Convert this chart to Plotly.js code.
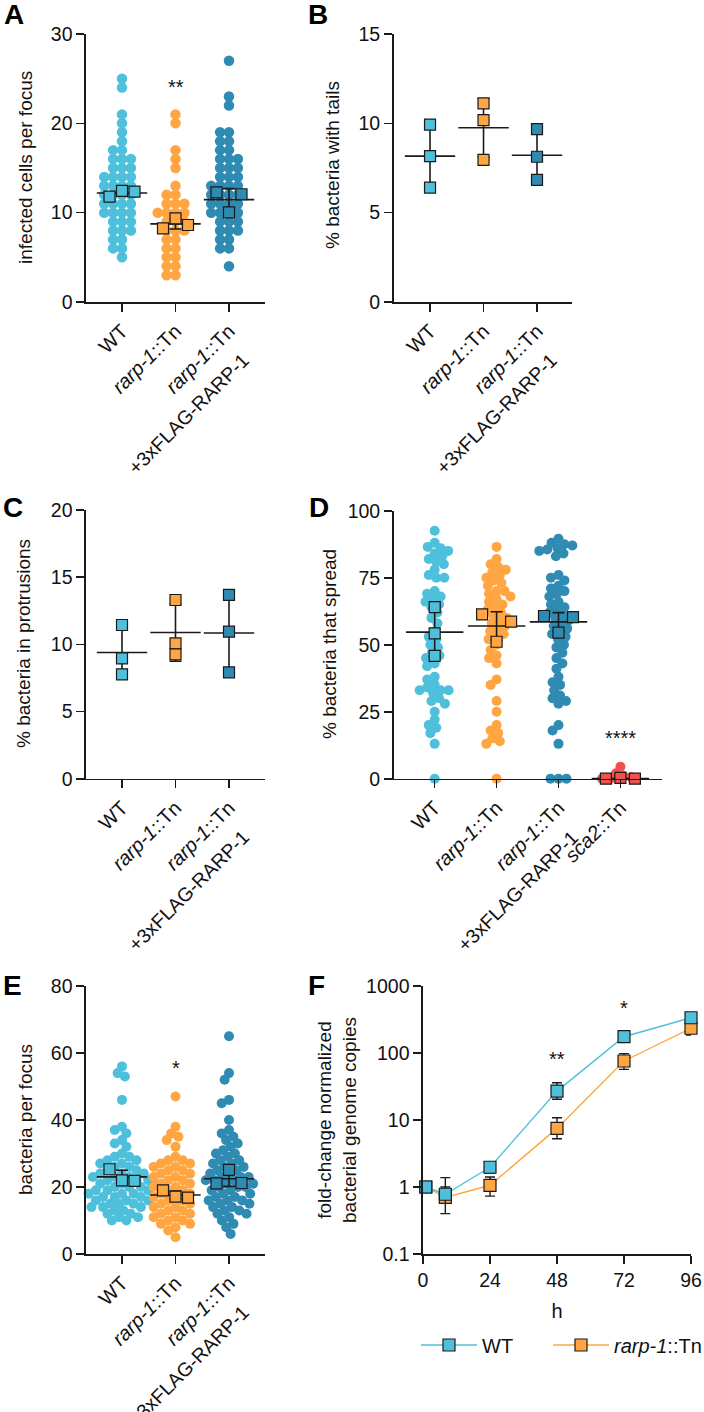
<!DOCTYPE html>
<html><head><meta charset="utf-8">
<script src="https://cdn.plot.ly/plotly-3.0.1.min.js"></script>
<style>html,body{margin:0;padding:0;background:#fff}#chart{width:704px;height:1412px}</style>
</head><body><div id="chart"></div>
<script>
// ---------------- DATA ----------------
const catsABC = ['WT', '<i>rarp-1</i>::Tn', '<i>rarp-1</i>::Tn'];
const catsD = ['WT', '<i>rarp-1</i>::Tn', '<i>rarp-1</i>::Tn', '<i>sca2</i>::Tn'];
const compSecondLine = '+3xFLAG-RARP-1';

// A: infected cells per focus (individual foci)
const A_WT = [25,24,21,20,19,18,17,17,16,16,16,15,15,15,14,14,14,14,13,13,13,13,12,12,12,12,11,11,11,11,10,10,10,10,9,9,9,8,8,8,7,7,6,6,5];
const A_RARP = [21,20,17,16,15,13,12,12,11,11,11,10,10,10,10,9,9,9,8,8,8,7,7,6,6,5,5,4,4,3,3];
const A_COMP = [27,23,22,19,19,18,18,17,17,16,16,16,15,15,15,14,14,14,13,13,13,13,12,12,12,12,11,11,11,11,10,10,10,10,9,9,9,8,8,8,7,7,6,6,4];
const A_WT_reps = [11.8, 12.45, 12.35];
const A_RARP_reps = [8.25, 9.37, 8.62];
const A_COMP_reps = [12.28, 10.04, 12.06];

// B: % bacteria with tails (replicates)
const B_WT_reps = [9.93, 8.17, 6.40];
const B_RARP_reps = [11.12, 10.18, 7.95];
const B_COMP_reps = [9.68, 8.13, 6.83];

// C: % bacteria in protrusions (replicates)
const C_WT_reps = [11.44, 8.96, 7.77];
const C_RARP_reps = [13.30, 10.08, 9.26];
const C_COMP_reps = [13.68, 10.95, 7.92];

// D: % bacteria that spread
const D_WT = [92.5,88,86.5,86,85,84,83,82,81,80,78,76,75,75,70,69,68,67,66,65,64,62,60,58,55,53,52,50,49,47,46,45,43,42,38,37,35,34,33,33,33,32,30,29,28,25,22,20,19,17,13,0];
const D_RARP = [86.5,82,80,79,78,77,76,75,74,73,72,70,70,69,68,67,66,65,64,63,62,61,60,59,58,57,56,55,54,53,52,50,48,46,45,43,37,35,29,25,20,18,17,15,14,13,0];
const D_COMP = [89.5,88,87.5,87,86,85.5,85,84,83,76,75,74,72,71,70,69,68,66,65,64,63,62,61,60,59,58,57,56,55,54,53,52,50,49,47,45,43,41,38,36,35,33,31,30,29,28,20,18,13,0,0,0];
const D_SCA2 = [0,0,0.5,1,2,4.5];
const D_WT_reps = [64.0, 54.25, 45.8];
const D_RARP_reps = [61.3, 51.1, 58.6];
const D_COMP_reps = [60.7, 54.5, 60.3];
const D_SCA2_reps = [0.0, 0.3, 0.0];

// E: bacteria per focus
const E_WT = [56,54,53,46,38,37,36,34,33,32,30,29,29,28,28,27,27,26,26,25,25,24,24,24,23,23,23,22,22,22,21,21,21,20,20,20,19,19,19,18,18,18,17,17,17,16,16,16,15,15,15,14,14,14,13,13,12,12,11,11,10,10];
const E_RARP = [47,38,36,35,34,32,29,28,28,27,27,26,26,25,25,24,24,23,23,22,22,21,21,20,20,19,19,18,18,17,17,16,16,15,15,14,14,13,13,12,12,11,11,10,10,9,9,8,7,5];
const E_COMP = [65,54,52,46,45,40,37,36,35,34,33,32,31,30,30,29,28,28,27,27,26,26,25,25,24,24,23,23,23,22,22,22,21,21,20,20,20,19,19,18,18,17,17,16,16,16,15,15,14,14,13,13,12,12,11,10,9,8,6];
const E_WT_reps = [25.3, 22.0, 21.8];
const E_RARP_reps = [19.0, 17.1, 16.8];
const E_COMP_reps = [21.1, 25.1, 21.2];

// F: fold-change normalized bacterial genome copies
const F_hours = [1, 8, 24, 48, 72, 96];
const F_WT = [1, 0.78, 1.97, 27, 175, 336];
const F_WT_up = [0, 0.60, 0.30, 9, 20, 40];
const F_WT_dn = [0, 0.38, 0.35, 6.6, 20, 40];
const F_RARP = [1, 0.70, 1.06, 7.5, 76, 234];
const F_RARP_up = [0, 0.30, 0.35, 3.3, 22, 40];
const F_RARP_dn = [0, 0.10, 0.33, 2.25, 19, 48];
const F_xticks = [0, 24, 48, 72, 96];
const F_yticks = [0.1, 1, 10, 100, 1000];
const F_yticktext = ['0.1', '1', '10', '100', '1000'];

// ---------------- STYLE / LAYOUT ----------------
const W = 704, H = 1412;
const FONT = 'Liberation Sans, Arial, Helvetica, sans-serif';
const C_WT = '#4FC0DC', C_RARP = '#FFA542', C_COMP = '#2F8BB2', C_SCA = '#F0524E';
const INK = '#1a1a1a';

const P = {
  A: {ax: '', px: [86, 265], py: [34, 302], xr: [-0.673, 2.673], yr: [0, 30], dt: 10},
  B: {ax: '2', px: [393.7, 572], py: [34, 302], xr: [-0.679, 2.654], yr: [0, 15], dt: 5},
  C: {ax: '3', px: [86, 265], py: [510, 778.7], xr: [-0.673, 2.673], yr: [0, 20], dt: 5},
  D: {ax: '4', px: [393.7, 662], py: [510.7, 778.7], xr: [-0.662, 3.672], yr: [0, 100], dt: 25},
  E: {ax: '5', px: [86, 265], py: [986, 1254], xr: [-0.673, 2.673], yr: [0, 80], dt: 20},
  F: {ax: '6', px: [423, 691], py: [986, 1254], xr: [0, 96], yr: [-1, 3]}
};
function pxPerUnitY(p) { return (p.py[1] - p.py[0]) / (p.yr[1] - p.yr[0]); }
function pxPerUnitX(p) { return (p.px[1] - p.px[0]) / (p.xr[1] - p.xr[0]); }

// beeswarm: circle packing closest to centre
function swarm(vals, pyu, sep) {
  const n = vals.length, out = new Array(n), placed = [];
  const idx = vals.map((v, i) => i).sort((a, b) => vals[b] - vals[a]);
  for (const i of idx) {
    const y = vals[i] * pyu;
    const cands = [0];
    for (const p of placed) {
      const dy = y - p.y;
      if (Math.abs(dy) < sep) { const h = Math.sqrt(sep * sep - dy * dy); cands.push(p.x + h, p.x - h); }
    }
    const ok = cands.filter(c => placed.every(p => (c - p.x) ** 2 + (y - p.y) ** 2 >= sep * sep - 1e-6));
    ok.sort((a, b) => Math.abs(a) - Math.abs(b) || a - b);
    const c = ok[0];
    placed.push({x: c, y}); out[i] = c;
  }
  return out;
}
// replicate squares: spread side by side if any overlap
function repOffsets(vals, pyu, size, step) {
  let overlap = false;
  for (let i = 0; i < vals.length; i++) for (let j = i + 1; j < vals.length; j++)
    if (Math.abs(vals[i] - vals[j]) * pyu < size) overlap = true;
  return vals.map((v, i) => overlap ? (i - (vals.length - 1) / 2) * step : 0);
}
function mean(a) { return a.reduce((s, v) => s + v, 0) / a.length; }
function sd(a) { const m = mean(a); return Math.sqrt(a.reduce((s, v) => s + (v - m) ** 2, 0) / (a.length - 1)); }

const traces = [];
function ax(p) { return {xaxis: 'x' + p.ax, yaxis: 'y' + p.ax}; }

function addDots(p, cat, vals, color, sep, size) {
  const off = swarm(vals, pxPerUnitY(p), sep), ppx = pxPerUnitX(p);
  traces.push(Object.assign({type: 'scatter', mode: 'markers', x: off.map(o => cat + o / ppx), y: vals,
    marker: {size: size, color: color, line: {width: 0}}, cliponaxis: false, showlegend: false, hoverinfo: 'skip'}, ax(p)));
}
function addSummary(p, groups, lineLen) {
  traces.push(Object.assign({type: 'scatter', mode: 'markers', x: groups.map((g, i) => i), y: groups.map(mean),
    marker: {symbol: 'line-ew', size: lineLen, color: INK, line: {width: 1.6, color: INK}},
    error_y: {type: 'data', array: groups.map(sd), visible: true, color: INK, thickness: 1.6, width: 6},
    cliponaxis: false, showlegend: false, hoverinfo: 'skip'}, ax(p)));
}
function addReps(p, cat, vals, color, step) {
  const off = repOffsets(vals, pxPerUnitY(p), 10.5, step), ppx = pxPerUnitX(p);
  traces.push(Object.assign({type: 'scatter', mode: 'markers', x: off.map(o => cat + o / ppx), y: vals,
    marker: {symbol: 'square', size: 11, color: color, line: {color: INK, width: 1.2}},
    cliponaxis: false, showlegend: false, hoverinfo: 'skip'}, ax(p)));
}

// Panel A
addDots(P.A, 0, A_WT, C_WT, 8.9, 10.5);
addDots(P.A, 1, A_RARP, C_RARP, 8.9, 10.5);
addDots(P.A, 2, A_COMP, C_COMP, 8.9, 10.5);
addSummary(P.A, [A_WT_reps, A_RARP_reps, A_COMP_reps], 36);
addReps(P.A, 0, A_WT_reps, C_WT, 12.5);
addReps(P.A, 1, A_RARP_reps, C_RARP, 12.5);
addReps(P.A, 2, A_COMP_reps, C_COMP, 12.5);
// Panel B
addSummary(P.B, [B_WT_reps, B_RARP_reps, B_COMP_reps], 36);
addReps(P.B, 0, B_WT_reps, C_WT, 12.5);
addReps(P.B, 1, B_RARP_reps, C_RARP, 12.5);
addReps(P.B, 2, B_COMP_reps, C_COMP, 12.5);
// Panel C
addSummary(P.C, [C_WT_reps, C_RARP_reps, C_COMP_reps], 36);
addReps(P.C, 0, C_WT_reps, C_WT, 12.5);
addReps(P.C, 1, C_RARP_reps, C_RARP, 12.5);
addReps(P.C, 2, C_COMP_reps, C_COMP, 12.5);
// Panel D
addDots(P.D, 0, D_WT, C_WT, 8, 10);
addDots(P.D, 1, D_RARP, C_RARP, 8, 10);
addDots(P.D, 2, D_COMP, C_COMP, 8, 10);
addDots(P.D, 3, D_SCA2, C_SCA, 8, 10);
addSummary(P.D, [D_WT_reps, D_RARP_reps, D_COMP_reps, D_SCA2_reps], 41);
addReps(P.D, 0, D_WT_reps, C_WT, 14.5);
addReps(P.D, 1, D_RARP_reps, C_RARP, 14.5);
addReps(P.D, 2, D_COMP_reps, C_COMP, 14.5);
addReps(P.D, 3, D_SCA2_reps, C_SCA, 14.5);
// Panel E
addDots(P.E, 0, E_WT, C_WT, 8, 10);
addDots(P.E, 1, E_RARP, C_RARP, 8, 10);
addDots(P.E, 2, E_COMP, C_COMP, 8, 10);
addSummary(P.E, [E_WT_reps, E_RARP_reps, E_COMP_reps], 36);
addReps(P.E, 0, E_WT_reps, C_WT, 12.5);
addReps(P.E, 1, E_RARP_reps, C_RARP, 12.5);
addReps(P.E, 2, E_COMP_reps, C_COMP, 12.5);
// Panel F
traces.push(Object.assign({type: 'scatter', mode: 'lines+markers', name: '<i>rarp-1</i>::Tn', legend: 'legend2',
  x: F_hours, y: F_RARP, line: {color: C_RARP, width: 1.4},
  marker: {symbol: 'square', size: 12, color: C_RARP, line: {color: INK, width: 1.2}},
  error_y: {type: 'data', symmetric: false, array: F_RARP_up, arrayminus: F_RARP_dn, color: INK, thickness: 1.4, width: 5},
  cliponaxis: false}, ax(P.F)));
traces.push(Object.assign({type: 'scatter', mode: 'lines+markers', name: 'WT', legend: 'legend',
  x: F_hours, y: F_WT, line: {color: C_WT, width: 1.4},
  marker: {symbol: 'square', size: 12, color: C_WT, line: {color: INK, width: 1.2}},
  error_y: {type: 'data', symmetric: false, array: F_WT_up, arrayminus: F_WT_dn, color: INK, thickness: 1.4, width: 5},
  cliponaxis: false}, ax(P.F)));

// axes
const baseAxis = {showline: true, linecolor: INK, linewidth: 1.6, ticks: 'outside', ticklen: 8, tickwidth: 1.6,
  tickcolor: INK, showgrid: false, zeroline: false, fixedrange: true, tickfont: {size: 19.5, color: '#111', family: FONT}};
const legendBase = {orientation: 'h', xanchor: 'left', y: 1 - 1345 / H, yanchor: 'middle', font: {size: 20, family: FONT},
  itemwidth: 56, bgcolor: 'rgba(0,0,0,0)'};
const layout = {width: W, height: H, margin: {l: 0, r: 0, t: 0, b: 0, autoexpand: false}, paper_bgcolor: '#fff', plot_bgcolor: 'rgba(0,0,0,0)',
  font: {family: FONT, color: '#111'}, showlegend: true,
  legend: Object.assign({}, legendBase, {x: 416 / W}),
  legend2: Object.assign({}, legendBase, {x: 548 / W}),
  annotations: []};

for (const k of Object.keys(P)) {
  const p = P[k];
  const xd = [p.px[0] / W, p.px[1] / W], yd = [1 - p.py[1] / H, 1 - p.py[0] / H];
  const xa = Object.assign({}, baseAxis, {domain: xd, range: p.xr, anchor: 'y' + p.ax});
  const ya = Object.assign({}, baseAxis, {domain: yd, range: p.yr, anchor: 'x' + p.ax});
  if (k === 'F') {
    xa.tickvals = F_xticks; xa.ticktext = F_xticks.map(String); xa.type = 'linear';
    xa.title = {text: 'h', font: {size: 20, family: FONT}, standoff: 14};
    ya.type = 'log'; ya.tickvals = F_yticks; ya.ticktext = F_yticktext;
  } else {
    const cats = k === 'D' ? catsD : catsABC;
    xa.tickvals = cats.map((c, i) => i); xa.ticktext = cats; xa.tickangle = -45;
    xa.tickfont = {size: 20, color: '#111', family: FONT};
    ya.tickmode = 'linear'; ya.tick0 = 0; ya.dtick = p.dt;
    // second line of the complemented-strain label (category index 2)
    layout.annotations.push({xref: 'x' + p.ax, yref: 'y' + p.ax, x: 2, y: 0, xshift: -41, yshift: -112,
      text: compSecondLine, textangle: -45, showarrow: false, xanchor: 'center', yanchor: 'middle',
      font: {size: 19.5, family: FONT, color: '#111'}});
  }
  layout['xaxis' + p.ax] = xa; layout['yaxis' + p.ax] = ya;
}

// axis titles
const yTitles = [
  ['infected cells per focus', 25, 168], ['% bacteria with tails', 333, 165],
  ['% bacteria in protrusions', 24, 644], ['% bacteria that spread', 330, 644],
  ['bacteria per focus', 25, 1120], ['fold-change normalized<br>bacterial genome copies', 337, 1120]
];
for (const t of yTitles) layout.annotations.push({xref: 'paper', yref: 'paper', x: t[1] / W, y: 1 - t[2] / H, text: t[0],
  textangle: -90, showarrow: false, xanchor: 'center', yanchor: 'middle', font: {size: 19, family: FONT, color: '#111'}});
// panel letters
const letters = [['A', 14, 14], ['B', 318, 14], ['C', 13, 507], ['D', 319, 507], ['E', 12, 986], ['F', 316, 986]];
for (const t of letters) layout.annotations.push({xref: 'paper', yref: 'paper', x: t[1] / W, y: 1 - t[2] / H, text: '<b>' + t[0] + '</b>',
  showarrow: false, xanchor: 'center', yanchor: 'middle', font: {size: 28, family: FONT, color: '#000'}});
// significance
const sig = [['**', 'x', 'y', 1, 24.6], ['****', 'x4', 'y4', 3, 17], ['*', 'x5', 'y5', 1, 57], ['**', 'x6', 'y6', 48, 1.99], ['*', 'x6', 'y6', 72, 2.745]];
for (const s of sig) layout.annotations.push({xref: s[1], yref: s[2], x: s[3], y: s[4], text: s[0], showarrow: false,
  xanchor: 'center', yanchor: 'middle', yshift: -5, font: {size: 20, family: FONT, color: '#111'}});

Plotly.newPlot('chart', traces, layout, {staticPlot: true, displayModeBar: false});
</script></body></html>
